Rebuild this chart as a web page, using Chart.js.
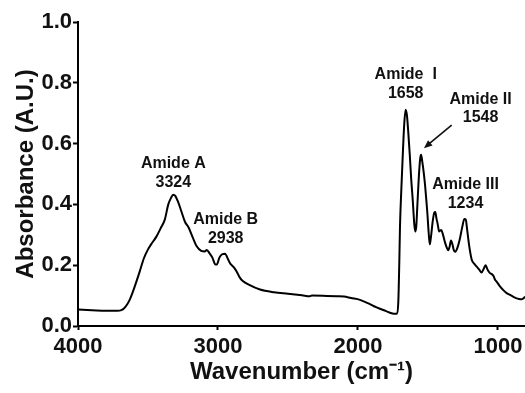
<!DOCTYPE html>
<html>
<head>
<meta charset="utf-8">
<script src="https://cdn.jsdelivr.net/npm/chart.js@4/dist/chart.umd.min.js"></script>
<style>
  html, body { margin: 0; padding: 0; background: #fff; }
  #wrap { width: 525px; height: 393px; }
</style>
</head>
<body>
<div id="wrap"><canvas id="c" width="525" height="393"></canvas></div>
<script>
// Wavenumber (cm-1)
const wavenumbers = [4000,3900,3800,3720,3690,3660,3630,3600,3560,3530,3500,3470,3440,3410,3380,3355,3335,3320,3305,3285,3260,3236,3210,3180,3152,3120,3095,3080,3060,3040,3020,3008,2990,2970,2950,2930,2912,2895,2880,2865,2845,2825,2780,2700,2600,2500,2400,2343,2330,2224,2150,2100,2050,1986,1930,1867,1800,1760,1735,1722,1712,1705,1700,1690,1681,1670,1660,1650,1640,1630,1620,1609,1598,1591,1584,1575,1565,1555,1549,1540,1530,1521,1512,1505,1495,1487,1478,1466,1455,1448,1440,1431,1420,1405,1395,1379,1365,1355,1345,1336,1325,1315,1305,1290,1275,1255,1240,1230,1220,1212,1200,1188,1170,1152,1135,1117,1100,1088,1075,1057,1045,1033,1020,1010,990,962,940,914,890,867,850,831,815,807];
// Absorbance (A.U.)
const absorbance = [0.054,0.052,0.050,0.050,0.052,0.064,0.087,0.123,0.178,0.222,0.252,0.274,0.294,0.321,0.350,0.400,0.422,0.432,0.428,0.408,0.375,0.343,0.324,0.291,0.262,0.247,0.245,0.250,0.239,0.225,0.203,0.202,0.225,0.236,0.238,0.221,0.205,0.197,0.189,0.178,0.160,0.149,0.136,0.120,0.111,0.106,0.101,0.098,0.100,0.099,0.098,0.097,0.092,0.086,0.075,0.061,0.049,0.042,0.040,0.041,0.079,0.207,0.326,0.454,0.553,0.661,0.711,0.691,0.632,0.563,0.484,0.415,0.336,0.311,0.326,0.405,0.494,0.553,0.563,0.538,0.503,0.464,0.415,0.375,0.306,0.268,0.296,0.345,0.373,0.375,0.355,0.336,0.311,0.316,0.304,0.276,0.257,0.249,0.262,0.281,0.268,0.249,0.244,0.257,0.281,0.326,0.352,0.350,0.316,0.286,0.247,0.219,0.205,0.195,0.186,0.176,0.190,0.200,0.186,0.174,0.171,0.165,0.151,0.146,0.133,0.118,0.109,0.102,0.096,0.091,0.089,0.088,0.092,0.097];

const xTicks = [1000, 2000, 3000, 4000];
const yTicks = [0, 0.2, 0.4, 0.6, 0.8, 1.0];

// Peak annotations: [line1, line2, wavenumber, absorbance of first line, absorbance of second line]
const peakLabels = [
  ["Amide A", "3324", 3319, 0.535, 0.473],
  ["Amide B", "2938", 2945, 0.349, 0.288],
  ["Amide  I", "1658", 1659, 0.826, 0.765],
  ["Amide II", "1548", 1124, 0.746, 0.686],
  ["Amide III", "1234", 1232, 0.464, 0.404]
];
// Arrow from (wn, abs) to (wn, abs)
const arrowFrom = [1331, 0.661];
const arrowTo = [1529, 0.585];

const FONT = "'Liberation Sans', Arial, Helvetica, sans-serif";

const annotPlugin = {
  id: 'annot',
  afterDatasetsDraw(chart) {
    const {ctx, scales: {x, y}} = chart;
    ctx.save();
    ctx.fillStyle = '#111';
    ctx.font = 'bold 16px ' + FONT;
    ctx.textAlign = 'center';
    ctx.textBaseline = 'middle';
    peakLabels.forEach(p => {
      const px = x.getPixelForValue(p[2]);
      ctx.fillText(p[0], px, y.getPixelForValue(p[3]));
      ctx.fillText(p[1], px, y.getPixelForValue(p[4]));
    });
    // arrow
    const x1 = x.getPixelForValue(arrowFrom[0]), y1 = y.getPixelForValue(arrowFrom[1]);
    const x2 = x.getPixelForValue(arrowTo[0]), y2 = y.getPixelForValue(arrowTo[1]);
    const ang = Math.atan2(y2 - y1, x2 - x1);
    ctx.strokeStyle = '#111';
    ctx.lineWidth = 1.6;
    ctx.beginPath();
    ctx.moveTo(x1, y1);
    ctx.lineTo(x2 - 5 * Math.cos(ang), y2 - 5 * Math.sin(ang));
    ctx.stroke();
    ctx.beginPath();
    ctx.moveTo(x2, y2);
    ctx.lineTo(x2 - 9 * Math.cos(ang - 0.4), y2 - 9 * Math.sin(ang - 0.4));
    ctx.lineTo(x2 - 9 * Math.cos(ang + 0.4), y2 - 9 * Math.sin(ang + 0.4));
    ctx.closePath();
    ctx.fill();
    ctx.restore();
  }
};

new Chart(document.getElementById('c'), {
  type: 'line',
  data: {
    datasets: [{
      data: wavenumbers.map((w, i) => ({x: w, y: absorbance[i]})),
      borderColor: '#000',
      borderWidth: 2,
      pointRadius: 0,
      fill: false,
      cubicInterpolationMode: 'monotone'
    }]
  },
  options: {
    responsive: false,
    animation: false,
    layout: { padding: { top: 22, right: 0, left: 0, bottom: 0 } },
    plugins: { legend: { display: false }, tooltip: { enabled: false } },
    scales: {
      x: {
        type: 'linear',
        reverse: true,
        min: 807,
        max: 4000,
        afterBuildTicks: s => { s.ticks = xTicks.map(v => ({value: v})); },
        afterFit: s => { s.height = 67; },
        grid: { drawOnChartArea: false, drawTicks: true, tickLength: 4, tickWidth: 2, tickColor: '#000' },
        border: { display: true, color: '#000', width: 2 },
        ticks: { color: '#111', font: { family: FONT, size: 22, weight: 'bold' }, padding: 4, maxRotation: 0, autoSkip: false, callback: v => String(v) },
        title: { display: true, text: 'Wavenumber (cm\u207B\u00B9)', color: '#111', font: { family: FONT, size: 24, weight: 'bold', lineHeight: 1 }, padding: { top: 0, bottom: 9 } }
      },
      y: {
        type: 'linear',
        min: 0,
        max: 1,
        afterBuildTicks: s => { s.ticks = yTicks.map(v => ({value: v})); },
        afterFit: s => { s.width = 78; },
        grid: { drawOnChartArea: false, drawTicks: true, tickLength: 5, tickWidth: 2, tickColor: '#000' },
        border: { display: true, color: '#000', width: 2 },
        ticks: { color: '#111', font: { family: FONT, size: 22, weight: 'bold' }, padding: 1, callback: v => Number(v).toFixed(1) },
        title: { display: true, text: 'Absorbance (A.U.)', color: '#111', font: { family: FONT, size: 24, weight: 'bold', lineHeight: 1 }, padding: { top: 14, bottom: 0 } }
      }
    }
  },
  plugins: [annotPlugin]
});
</script>
</body>
</html>
